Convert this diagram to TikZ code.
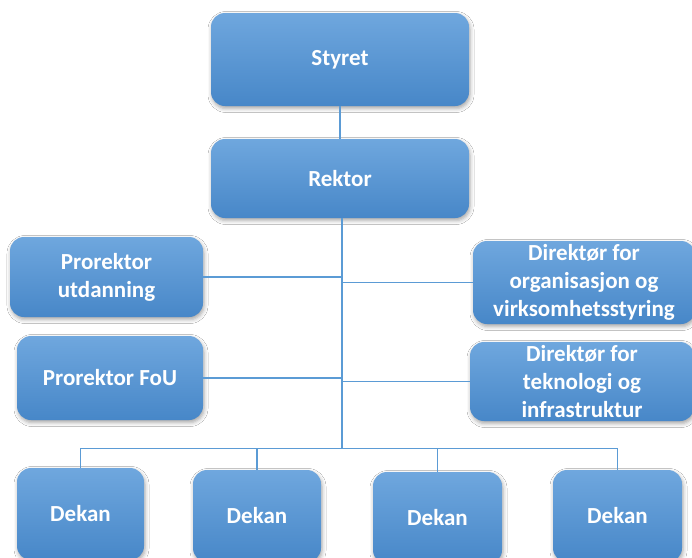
\documentclass[tikz,border=0pt]{standalone}
\usepackage{fontspec}
\setmainfont{Carlito}
\usetikzlibrary{shadows.blur}
\definecolor{boxtop}{HTML}{6FA7DE}
\definecolor{boxbot}{HTML}{4787C8}
\definecolor{linecol}{HTML}{5B9BD5}
\tikzset{
  orgbox/.style={rounded corners=14pt, top color=boxtop, bottom color=boxbot,
    draw=none, text=white, font=\fontsize{23}{28}\selectfont\bfseries,
    align=center, inner sep=0pt,
    blur shadow={shadow xshift=1pt, shadow yshift=-2.5pt, shadow blur radius=4pt, shadow opacity=35}},
  conn/.style={draw=linecol, line width=1.6pt}
}
\begin{document}
\begin{tikzpicture}[x=1pt,y=-1pt]
\clip (0,0) rectangle (692,557);
\fill[white] (0,0) rectangle (692,557);
% boxes
\node[orgbox, minimum width=258pt, minimum height=93pt] (styret) at (340,59.5) {Styret};
\node[orgbox, minimum width=258pt, minimum height=79pt] (rektor) at (340,178.5) {Rektor};
\node[orgbox, minimum width=193pt, minimum height=80pt] (prou) at (106.5,277) {Prorektor\\utdanning};
\node[orgbox, minimum width=186pt, minimum height=84pt] (prof) at (110,378) {Prorektor FoU};
\node[orgbox, minimum width=222pt, minimum height=83pt] (diro) at (584,282.5) {Direktør for\\organisasjon og\\virksomhetsstyring};
\node[orgbox, minimum width=224pt, minimum height=79pt] (dirt) at (582,381.5) {Direktør for\\teknologi og\\infrastruktur};
\node[orgbox, minimum width=127pt, minimum height=92pt] (dek1) at (80.5,514) {Dekan};
\node[orgbox, minimum width=128pt, minimum height=92pt] (dek2) at (257,516) {Dekan};
\node[orgbox, minimum width=129pt, minimum height=92pt] (dek3) at (437.5,518) {Dekan};
\node[orgbox, minimum width=129pt, minimum height=92pt] (dek4) at (617.5,516) {Dekan};
% connectors
\coordinate (bus) at (342,448.5);
\draw[conn] (styret.south) -- (rektor.north);
\draw[conn] (rektor.south -| bus) -- (bus);
\draw[conn] (prou.east) -- (prou.east -| bus);
\draw[conn] (diro.west) -- (diro.west -| bus);
\draw[conn] (prof.east) -- (prof.east -| bus);
\draw[conn] (dirt.west) -- (dirt.west -| bus);
\draw[conn] (dek1.north) -- (dek1.north |- bus) -- (dek4.north |- bus) -- (dek4.north);
\draw[conn] (dek2.north) -- (dek2.north |- bus);
\draw[conn] (dek3.north) -- (dek3.north |- bus);
\end{tikzpicture}
\end{document}
